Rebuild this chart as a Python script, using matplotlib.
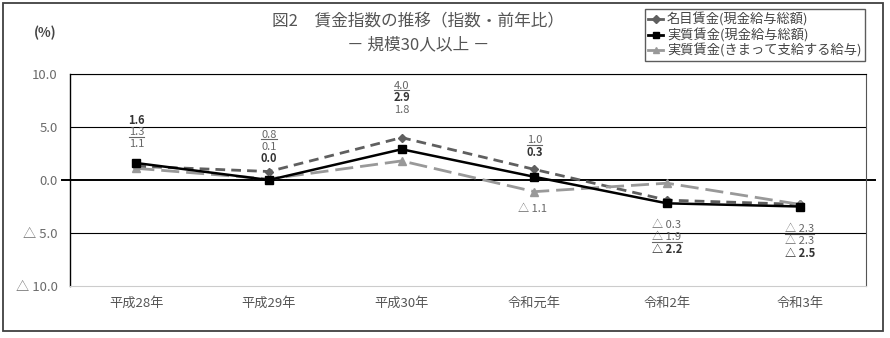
import matplotlib.pyplot as plt
from matplotlib.patches import Rectangle
from matplotlib.lines import Line2D
import matplotlib.transforms as mtransforms

plt.rcParams['font.family'] = ['Noto Sans CJK JP', 'DejaVu Sans']

years = ['平成28年', '平成29年', '平成30年', '令和元年', '令和2年', '令和3年']
nominal = [1.3, 0.8, 4.0, 1.0, -1.9, -2.3]      # 名目賃金(現金給与総額)
real_total = [1.6, 0.0, 2.9, 0.3, -2.2, -2.5]   # 実質賃金(現金給与総額)
real_regular = [1.1, 0.1, 1.8, -1.1, -0.3, -2.3]  # 実質賃金(きまって支給する給与)
yticks = [10, 5, 0, -5, -10]


def fmt(v):
    # negative values are written with a triangle in Japanese statistics
    return '{:.1f}'.format(v) if v >= 0 else '△ {:.1f}'.format(-v)


fig = plt.figure(figsize=(8.9, 3.38), dpi=100)
W, H = 890, 338

# outer frame
fig.add_artist(Rectangle((3 / W, 1 - 331 / H), 880 / W, 328 / H, transform=fig.transFigure,
                         fill=False, edgecolor='#404040', linewidth=1.3))

ax = fig.add_axes([70 / W, 1 - 286 / H, 796 / W, 212 / H])
x = range(len(years))

ax.plot(x, nominal, color='#5f5f5f', linewidth=2.0, dashes=(3.5, 2.2),
        marker='D', markersize=4.5, label='名目賃金(現金給与総額)', zorder=3)
ax.plot(x, real_regular, color='#999999', linewidth=2.0, dashes=(6.5, 2.5),
        marker='^', markersize=6, label='実質賃金(きまって支給する給与)', zorder=3)
ax.plot(x, real_total, color='black', linewidth=1.8,
        marker='s', markersize=5.5, label='実質賃金(現金給与総額)', zorder=4)

ax.set_xlim(-0.5, 5.5)
ax.set_ylim(-10, 10)
for y in (10, 5, -5):
    ax.axhline(y, color='black', linewidth=0.8, zorder=1)
# zero line sticks out past both sides of the plot
blend = mtransforms.blended_transform_factory(ax.transAxes, ax.transData)
ax.plot([-8 / 796, 1 + 9 / 796], [0, 0], color='black', linewidth=1.4,
        transform=blend, clip_on=False, zorder=2)

ax.set_yticks(yticks)
ax.set_yticklabels([fmt(v) for v in yticks], color='#6b6b6b', fontsize=9.5)
ax.set_xticks(list(x))
ax.set_xticklabels(years, color='#555555', fontsize=9.5)
ax.tick_params(length=0, pad=9)
ax.tick_params(axis='x', pad=8)
for side in ('top', 'left'):
    ax.spines[side].set_color('black')
ax.spines['top'].set_linewidth(0.8)
ax.spines['left'].set_linewidth(1.0)
ax.spines['right'].set_color('#555555')
ax.spines['bottom'].set_color('#cccccc')

# value labels: (series, text style) stacked per category, offset in pixels
# style: 'u' underlined (名目), 'b' bold (実質 総額), 'n' plain (きまって)
stacks = [
    ('above', 19, [(real_total, 'b'), (nominal, 'u'), (real_regular, 'n')]),
    ('above', 13, [(nominal, 'u'), (real_regular, 'n'), (real_total, 'b')]),
    ('above', 28, [(nominal, 'u'), (real_total, 'b'), (real_regular, 'n')]),
    ('above', 17, [(nominal, 'u'), (real_total, 'b')]),
    ('below', 22, [(real_regular, 'n'), (nominal, 'u'), (real_total, 'b')]),
    ('below', 23, [(nominal, 'u'), (real_regular, 'n'), (real_total, 'b')]),
]
step = 12
underlined = []
for i, (where, off, items) in enumerate(stacks):
    vals = [s[i] for s, _ in items]
    n = len(items)
    for k, (series, style) in enumerate(items):
        v = series[i]
        if where == 'above':
            anchor = max(vals)
            dy = off + (n - 1 - k) * step
        else:
            anchor = min(vals)
            dy = -(off + k * step)
        color = '#333333' if style == 'b' else '#666666'
        t = ax.annotate(fmt(v), (i, anchor), xytext=(0, dy), textcoords='offset pixels',
                        ha='center', va='center', fontsize=8, color=color,
                        fontweight='bold' if style == 'b' else 'normal')
        if style == 'u':
            underlined.append(t)

# 令和元年 きまって支給する給与 sits below its own point
ax.annotate(fmt(real_regular[3]), (3, real_regular[3]), xytext=(-2, -17),
            textcoords='offset pixels', ha='center', va='center',
            fontsize=8, color='#666666')

fig.text(45 / W, 1 - 33 / H, '(%)', ha='center', va='center', fontsize=9.5,
         fontweight='bold', color='#444444')
fig.text(418 / W, 1 - 22 / H, '図2　賃金指数の推移（指数・前年比）', ha='center', va='center',
         fontsize=12, color='#555555')
fig.text(418 / W, 1 - 45 / H, '－ 規模30人以上 －', ha='center', va='center',
         fontsize=12, color='#555555')

handles = [
    Line2D([], [], color='#5f5f5f', linewidth=2, marker='D', markersize=4),
    Line2D([], [], color='black', linewidth=2, marker='s', markersize=5),
    Line2D([], [], color='#999999', linewidth=2, marker='^', markersize=5),
]
labels = ['名目賃金(現金給与総額)', '実質賃金(現金給与総額)', '実質賃金(きまって支給する給与)']
leg = fig.legend(handles, labels, loc='upper left', bbox_to_anchor=(645 / W, 1 - 9 / H),
                 frameon=True, fancybox=False, edgecolor='#333333', fontsize=9.5,
                 handlelength=1.1, handletextpad=0.3, borderpad=0.25, labelspacing=0.12,
                 borderaxespad=0)
leg.get_frame().set_linewidth(1.0)
for txt in leg.get_texts():
    txt.set_color('#444444')

fig.canvas.draw()
renderer = fig.canvas.get_renderer()
for t in underlined:
    bb = t.get_window_extent(renderer)
    fig.add_artist(Line2D([bb.x0 / W, bb.x1 / W], [(bb.y0 + 0.5) / H] * 2,
                          transform=fig.transFigure, color='#666666', linewidth=0.8))

fig.savefig('out.png', dpi=100)
